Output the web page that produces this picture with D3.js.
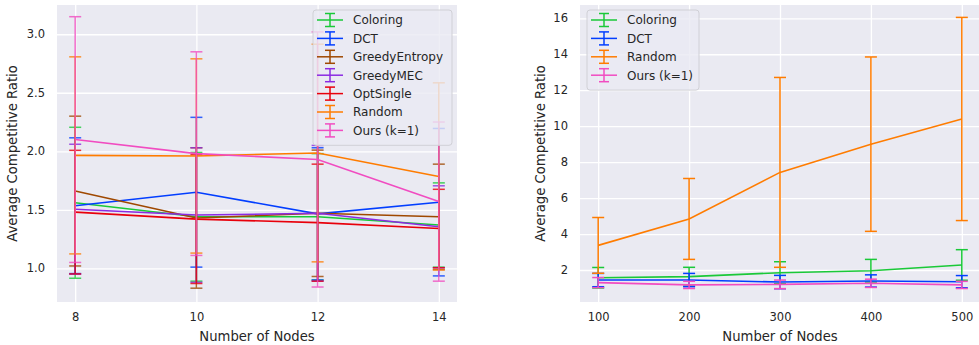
<script src="https://d3js.org/d3.v7.min.js"></script>
<style>
  body { margin: 0; background: #fff; }
  text { font-family: "DejaVu Sans", sans-serif; fill: #262626; }
</style>
<svg id="chart" width="979" height="345"></svg>
<script>
  // ---- data ----
  var nodesSmall = [8, 10, 12, 14];
  var nodesLarge = [100, 200, 300, 400, 500];

  var namesSmall = ["Coloring", "DCT", "GreedyEntropy", "GreedyMEC", "OptSingle", "Random", "Ours (k=1)"];
  var namesLarge = ["Coloring", "DCT", "Random", "Ours (k=1)"];

  // left panel: means and error half-widths
  var coloringSmall = [1.56, 1.44, 1.44, 1.37];
  var coloringSmallErr = [0.645, 0.55, 0.54, 0.36];
  var dctSmall = [1.535, 1.65, 1.465, 1.565];
  var dctSmallErr = [0.58, 0.64, 0.565, 0.63];
  var entropySmall = [1.66, 1.43, 1.47, 1.44];
  var entropySmallErr = [0.64, 0.60, 0.54, 0.45];
  var mecSmall = [1.505, 1.455, 1.47, 1.355];
  var mecSmallErr = [0.555, 0.575, 0.58, 0.35];
  var optSmall = [1.48, 1.42, 1.39, 1.34];
  var optSmallErr = [0.528, 0.55, 0.50, 0.335];
  var randomSmall = [1.965, 1.96, 1.985, 1.785];
  var randomSmallErr = [0.842, 0.83, 0.93, 0.80];
  var oursSmall = [2.10, 1.98, 1.93, 1.57];
  var oursSmallErr = [1.05, 0.87, 1.09, 0.68];

  // right panel
  var coloringLarge = [1.57, 1.63, 1.85, 1.96, 2.28];
  var coloringLargeErr = [0.57, 0.52, 0.61, 0.63, 0.85];
  var dctLarge = [1.44, 1.44, 1.33, 1.39, 1.35];
  var dctLargeErr = [0.37, 0.37, 0.37, 0.34, 0.34];
  var randomLarge = [3.37, 4.84, 7.43, 9.0, 10.4];
  var randomLargeErr = [1.55, 2.25, 5.28, 4.85, 5.65];
  var oursLarge = [1.30, 1.17, 1.20, 1.26, 1.17];
  var oursLargeErr = [0.28, 0.20, 0.24, 0.23, 0.20];

  var yTicksSmall = [1.0, 1.5, 2.0, 2.5, 3.0];
  var yTicksLarge = [2, 4, 6, 8, 10, 12, 14, 16];

  // seaborn "bright" colours
  var colors = {
    "Coloring": "#1ac938", "DCT": "#023eff", "GreedyEntropy": "#9f4800",
    "GreedyMEC": "#8b2be2", "OptSingle": "#e8000b", "Random": "#ff7c00", "Ours (k=1)": "#f14cc1"
  };

  var seriesSmall = [
    {name: "Coloring", mean: coloringSmall, err: coloringSmallErr},
    {name: "DCT", mean: dctSmall, err: dctSmallErr},
    {name: "GreedyEntropy", mean: entropySmall, err: entropySmallErr},
    {name: "GreedyMEC", mean: mecSmall, err: mecSmallErr},
    {name: "OptSingle", mean: optSmall, err: optSmallErr},
    {name: "Random", mean: randomSmall, err: randomSmallErr},
    {name: "Ours (k=1)", mean: oursSmall, err: oursSmallErr}
  ];
  var seriesLarge = [
    {name: "Coloring", mean: coloringLarge, err: coloringLargeErr},
    {name: "DCT", mean: dctLarge, err: dctLargeErr},
    {name: "Random", mean: randomLarge, err: randomLargeErr},
    {name: "Ours (k=1)", mean: oursLarge, err: oursLargeErr}
  ];

  var svg = d3.select("#chart");

  function panel(opt) {
    var x = d3.scaleLinear().domain(opt.xDomain).range([opt.left, opt.right]);
    var y = d3.scaleLinear().domain(opt.yDomain).range([302, 5]);
    var g = svg.append("g");

    g.append("rect")
      .attr("x", opt.left).attr("y", 5)
      .attr("width", opt.right - opt.left).attr("height", 297)
      .attr("fill", "#eaeaf2");

    // grid + tick labels
    var ya = g.append("g")
      .attr("transform", "translate(" + opt.left + ",0)")
      .call(d3.axisLeft(y).tickValues(opt.yTicks).tickFormat(opt.yFmt)
        .tickSize(-(opt.right - opt.left)).tickPadding(12));
    var xa = g.append("g")
      .attr("transform", "translate(0,302)")
      .call(d3.axisBottom(x).tickValues(opt.xTicks).tickFormat(d3.format("d"))
        .tickSize(-297).tickPadding(11));
    [ya, xa].forEach(function(a) {
      a.select(".domain").remove();
      a.selectAll("line").attr("stroke", "#fff").attr("stroke-width", 1.3);
      a.selectAll("text").style("font-size", "11.5px").style("fill", "#262626")
        .style("font-family", "DejaVu Sans, sans-serif");
    });

    // series: error bars then line
    var cap = 6;
    opt.series.forEach(function(s) {
      var c = colors[s.name];
      var pts = opt.xs.map(function(v, i) { return {x: v, m: s.mean[i], e: s.err[i]}; });
      var eb = g.append("g").attr("stroke", c).attr("stroke-width", 1.5).attr("opacity", opt.barAlpha);
      pts.forEach(function(p) {
        eb.append("line").attr("x1", x(p.x)).attr("x2", x(p.x))
          .attr("y1", y(p.m - p.e)).attr("y2", y(p.m + p.e));
        [p.m - p.e, p.m + p.e].forEach(function(v) {
          eb.append("line").attr("x1", x(p.x) - cap).attr("x2", x(p.x) + cap)
            .attr("y1", y(v)).attr("y2", y(v));
        });
      });
      g.append("path").datum(pts)
        .attr("fill", "none").attr("stroke", c).attr("stroke-width", 1.6)
        .attr("d", d3.line().x(function(p) { return x(p.x); }).y(function(p) { return y(p.m); }));
    });

    // axis labels
    g.append("text")
      .attr("transform", "translate(" + opt.ylabX + ",153.5) rotate(-90)")
      .attr("text-anchor", "middle").style("font-size", "13.2px")
      .text("Average Competitive Ratio");
    g.append("text")
      .attr("x", (opt.left + opt.right) / 2).attr("y", 341)
      .attr("text-anchor", "middle").style("font-size", "13.2px")
      .text("Number of Nodes");

    // legend
    var L = opt.legend;
    var rowH = 18.4;
    var lg = g.append("g");
    lg.append("rect")
      .attr("x", L.x).attr("y", 10).attr("rx", 3)
      .attr("width", L.w).attr("height", opt.series.length * rowH + 6.5)
      .attr("fill", "#eaeaf2").attr("fill-opacity", 0.8)
      .attr("stroke", "#d0d0d6").attr("stroke-width", 1);
    opt.series.forEach(function(s, i) {
      var cy = 20 + i * rowH, hx = L.x + 4, c = colors[s.name];
      var h = lg.append("g").attr("stroke", c).attr("stroke-width", 1.5);
      h.append("line").attr("x1", hx).attr("x2", hx + 26).attr("y1", cy).attr("y2", cy);
      h.append("line").attr("x1", hx + 13).attr("x2", hx + 13).attr("y1", cy - 6.5).attr("y2", cy + 6.5);
      h.append("line").attr("x1", hx + 8).attr("x2", hx + 18).attr("y1", cy - 6.5).attr("y2", cy - 6.5);
      h.append("line").attr("x1", hx + 8).attr("x2", hx + 18).attr("y1", cy + 6.5).attr("y2", cy + 6.5);
      lg.append("text").attr("x", hx + 36).attr("y", cy + 4.3)
        .style("font-size", "12px").text(s.name);
    });
  }

  panel({
    left: 57, right: 457, xDomain: [7.7, 14.3], yDomain: [0.712, 3.25],
    xs: nodesSmall, xTicks: nodesSmall, yTicks: yTicksSmall, yFmt: d3.format(".1f"),
    series: seriesSmall, barAlpha: 0.8, ylabX: 17, legend: {x: 313, w: 139}
  });
  panel({
    left: 580, right: 980, xDomain: [80, 520], yDomain: [0.22, 16.74],
    xs: nodesLarge, xTicks: nodesLarge, yTicks: yTicksLarge, yFmt: d3.format("d"),
    series: seriesLarge, barAlpha: 1, ylabX: 544.5, legend: {x: 587, w: 112}
  });
</script>
